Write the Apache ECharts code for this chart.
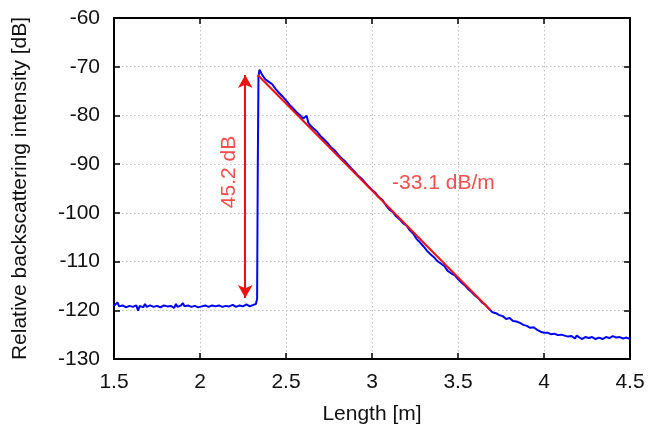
<!DOCTYPE html>
<html><head><meta charset="utf-8">
<script src="https://cdn.jsdelivr.net/npm/echarts@6/dist/echarts.min.js"></script>
<style>html,body{margin:0;padding:0;background:#fff}#c{width:666px;height:432px}</style>
</head><body><div id="c"></div>
<script>
// Measured trace: [length (m), intensity (dB)]
var baseline = [[1.50,-119.1],[1.52,-118.4],[1.53,-119.2],[1.55,-119.0],[1.57,-119.4],[1.59,-119.1],[1.61,-119.3],[1.63,-119.0],[1.64,-120.1],[1.65,-119.1],[1.67,-119.4],[1.68,-118.7],[1.69,-119.3],[1.71,-119.0],[1.73,-119.3],[1.75,-119.1],[1.77,-119.4],[1.79,-119.0],[1.81,-119.2],[1.83,-119.1],[1.85,-119.5],[1.86,-118.7],[1.87,-119.3],[1.89,-119.0],[1.90,-118.5],[1.91,-119.2],[1.93,-119.0],[1.94,-118.6],[1.95,-119.3],[1.97,-119.1],[1.99,-119.4],[2.00,-119.7],[2.01,-119.2],[2.03,-119.0],[2.05,-119.3],[2.07,-119.0],[2.09,-119.2],[2.11,-119.0],[2.13,-119.3],[2.15,-119.1],[2.17,-119.2],[2.19,-118.9],[2.21,-119.3],[2.23,-119.0],[2.25,-119.2],[2.27,-118.8],[2.29,-119.2],[2.31,-118.9],[2.325,-118.7]];
var rise = [[2.332,-117.6],[2.336,-90.0],[2.340,-72.0],[2.346,-70.6]];
var decay = [[2.36,-71.6],[2.38,-72.6],[2.40,-73.1],[2.42,-73.6],[2.44,-74.6],[2.46,-75.4],[2.48,-76.1],[2.50,-76.9],[2.52,-77.8],[2.54,-78.5],[2.56,-79.3],[2.58,-79.9],[2.60,-80.6],[2.61,-80.9],[2.62,-80.1],[2.63,-81.5],[2.64,-82.0],[2.66,-82.7],[2.68,-83.3],[2.70,-84.2],[2.72,-84.9],[2.74,-85.6],[2.76,-86.5],[2.78,-87.1],[2.80,-87.9],[2.82,-88.7],[2.84,-89.3],[2.86,-90.1],[2.88,-90.9],[2.90,-91.6],[2.92,-92.4],[2.94,-93.0],[2.96,-93.8],[2.98,-94.6],[3.00,-95.3],[3.02,-95.9],[3.04,-96.8],[3.06,-97.3],[3.08,-98.4],[3.10,-99.3],[3.12,-99.8],[3.14,-100.7],[3.16,-101.3],[3.18,-102.1],[3.20,-102.6],[3.22,-103.6],[3.24,-104.3],[3.26,-105.4],[3.28,-106.1],[3.30,-106.9],[3.32,-107.8],[3.34,-108.5],[3.36,-109.1],[3.38,-109.9],[3.40,-110.4],[3.42,-110.9],[3.44,-111.9],[3.46,-112.4],[3.48,-112.8],[3.50,-113.6],[3.52,-114.3],[3.54,-114.9],[3.56,-115.7],[3.58,-116.3],[3.60,-117.0],[3.62,-117.6],[3.64,-118.4],[3.66,-118.9],[3.68,-119.7]];
var tail = [[3.70,-120.4],[3.72,-120.6],[3.74,-121.0],[3.76,-121.2],[3.78,-121.8],[3.80,-121.6],[3.82,-122.2],[3.83,-121.8],[3.84,-122.3],[3.86,-122.6],[3.88,-123.0],[3.90,-123.2],[3.91,-122.8],[3.92,-123.6],[3.94,-123.5],[3.96,-124.0],[3.98,-124.4],[4.00,-124.6],[4.02,-124.6],[4.04,-124.9],[4.06,-124.8],[4.08,-125.1],[4.10,-125.0],[4.12,-125.2],[4.14,-125.4],[4.16,-125.3],[4.18,-125.8],[4.19,-125.2],[4.20,-125.5],[4.22,-125.9],[4.24,-125.5],[4.26,-125.7],[4.28,-125.5],[4.30,-125.9],[4.32,-125.6],[4.34,-125.9],[4.36,-125.5],[4.38,-125.7],[4.40,-125.3],[4.42,-125.6],[4.44,-125.5],[4.46,-125.8],[4.48,-125.6],[4.50,-125.9]];
var fitLine = [[2.336,-71.7],[3.689,-120.0]];
var arrowX = 2.263, arrowTop = -71.7, arrowBottom = -117.5;
var dropLabel = '45.2 dB', dropLabelPos = [2.170,-91.6];
var slopeLabel = '-33.1 dB/m', slopeLabelPos = [3.415,-93.9];
var xMin = 1.5, xMax = 4.5, xStep = 0.5;
var yMin = -130, yMax = -60, yStep = 10;

var trace = baseline.concat(rise, decay, tail);
var FONT = 'Liberation Sans, Arial, sans-serif';
var chart = echarts.init(document.getElementById('c'), null, {renderer:'canvas'});
var frameLine = {show:true, lineStyle:{color:'#000', width:2}};
var tick = {show:true, inside:true, length:6, lineStyle:{color:'#000', width:1.5}};
var split = {show:true, lineStyle:{color:'#c0c0c0', type:[1.5,2.5], width:1}};
chart.setOption({
  animation:false,
  grid:{left:114, right:36, top:18, bottom:73, containLabel:false},
  xAxis:[
    {type:'value', min:xMin, max:xMax, interval:xStep, position:'bottom',
     name:'Length [m]', nameLocation:'middle', nameGap:45,
     nameTextStyle:{fontFamily:FONT, fontSize:21, color:'#111'},
     axisLine:frameLine, axisTick:tick, splitLine:split,
     axisLabel:{fontFamily:FONT, fontSize:21, color:'#111', margin:13}},
    {type:'value', min:xMin, max:xMax, interval:xStep, position:'top',
     axisLine:frameLine, axisTick:tick, splitLine:{show:false}, axisLabel:{show:false}}
  ],
  yAxis:[
    {type:'value', min:yMin, max:yMax, interval:yStep, position:'left',
     name:'Relative backscattering intensity [dB]', nameLocation:'middle', nameGap:83,
     nameTextStyle:{fontFamily:FONT, fontSize:21, color:'#111'},
     axisLine:frameLine, axisTick:tick, splitLine:split,
     axisLabel:{fontFamily:FONT, fontSize:21, color:'#111', margin:14}},
    {type:'value', min:yMin, max:yMax, interval:yStep, position:'right',
     axisLine:frameLine, axisTick:tick, splitLine:{show:false}, axisLabel:{show:false}}
  ],
  series:[
    {type:'line', data:trace, showSymbol:false, lineStyle:{color:'#0000ff', width:2}, z:3,
     markLine:{silent:true, symbol:['arrow','arrow'], symbolSize:[11,13],
       label:{show:false}, lineStyle:{color:'#ee1111', width:2, type:'solid'},
       data:[[{coord:[arrowX, arrowTop]},{coord:[arrowX, arrowBottom]}]]}},
    {type:'line', data:fitLine, showSymbol:false, lineStyle:{color:'#ee1111', width:2}, z:4},
    {type:'scatter', symbolSize:0, z:5, data:[dropLabelPos],
     label:{show:true, position:'inside', rotate:90, formatter:dropLabel,
       fontFamily:FONT, fontSize:21, color:'#ee2222'}},
    {type:'scatter', symbolSize:0, z:5, data:[slopeLabelPos],
     label:{show:true, position:'inside', formatter:slopeLabel,
       fontFamily:FONT, fontSize:21, color:'#ee2222'}}
  ]
});
</script></body></html>
